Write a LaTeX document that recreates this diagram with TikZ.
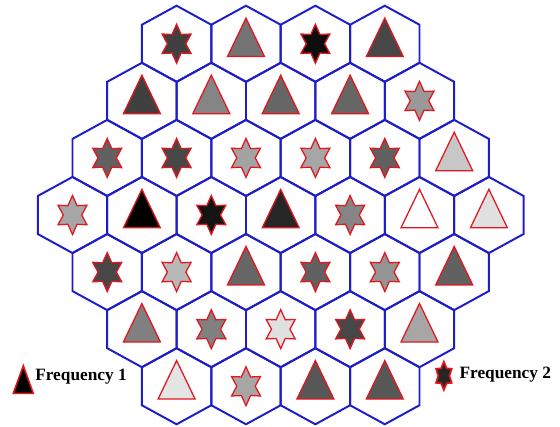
\documentclass[tikz,border=0pt]{standalone}
\usepackage{fontspec}
\setmainfont{Liberation Serif}
\usetikzlibrary{positioning}
\definecolor{HexBlue}{HTML}{1E1EC8}
\definecolor{MarkRed}{HTML}{E3161E}

\begin{document}
\begin{tikzpicture}[
    hexline/.style={draw=HexBlue, line width=1.4pt, line join=miter},
    symline/.style={draw=MarkRed, line width=0.9pt, line join=miter},
    legtext/.style={font=\fontsize{12.3}{14}\selectfont\bfseries, inner sep=0pt, anchor=west}
]
\def\hexw{1.735}
\def\hexr{0.951}
\def\rowspacing{1.427}
\useasboundingbox (-7.0175,-5.275) rectangle (6.9825,5.375);

% Draw all 37 cells, top row first (t = triangle, s = star, number = grey level)
\foreach \row/\cells in {
    1/{s/75,t/55,s/95,t/72},
    2/{t/75,t/48,t/60,t/60,s/40},
    3/{s/62,s/72,s/36,s/35,s/62,t/22},
    4/{s/35,t/100,s/92,t/85,s/48,t/0,t/12},
    5/{s/72,s/28,t/60,s/62,s/42,t/62},
    6/{t/50,s/50,s/12,s/72,t/35},
    7/{t/10,s/35,t/66,t/66}} {
    \pgfmathtruncatemacro{\ncells}{7-abs(\row-4)}
    \foreach \kind/\tone [count=\col] in \cells {
        \coordinate (h\row-\col) at ({(\col-(\ncells+1)/2)*\hexw}, {(4-\row)*\rowspacing});
        % Symbol in center
        \if t\kind
            \filldraw[symline, fill=black!\tone] (h\row-\col) ++(0,0.642) -- ++(0.4625,-0.963) -- ++(-0.925,0) -- cycle;
        \else
            \begin{scope}[shift={(h\row-\col)}]
                \filldraw[symline, fill=black!\tone] (90:0.4186cm and 0.4875cm)
                    \foreach \a in {150,210,...,450} { -- (\a-30:0.2302cm and 0.2681cm) -- (\a:0.4186cm and 0.4875cm) } -- cycle;
            \end{scope}
        \fi
        % Hexagon outline
        \draw[hexline] (h\row-\col) ++(0,\hexr) -- ++(\hexw/2,-\hexr/2) -- ++(0,-\hexr)
            -- ++(-\hexw/2,-\hexr/2) -- ++(-\hexw/2,\hexr/2) -- ++(0,\hexr) -- cycle;
    }
}

% Legend
\node[legtext] (freq1) at (-6.1425,-4.05) {Frequency 1};
\filldraw[symline, line width=1.1pt, fill=black] ([shift={(-0.2925,0.2825)}]freq1.west) -- ++(0.25,-0.69) -- ++(-0.5,0) -- cycle;

\node[legtext] (freq2) at (4.465,-4.0) {Frequency 2};
\begin{scope}[shift={([shift={(-0.386,-0.02)}]freq2.west)}]
    \filldraw[symline, line width=1.2pt, fill=black!85] (90:0.227cm and 0.354cm)
        \foreach \a in {150,210,...,450} { -- (\a-30:0.14cm and 0.215cm) -- (\a:0.227cm and 0.354cm) } -- cycle;
\end{scope}
\end{tikzpicture}
\end{document}
